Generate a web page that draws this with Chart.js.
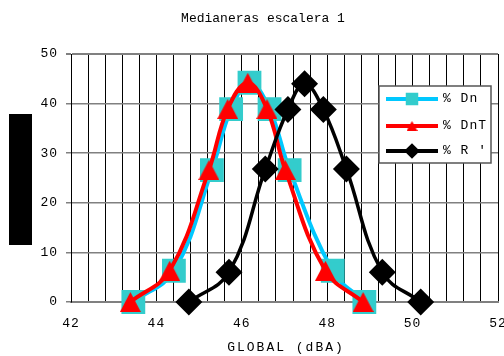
<!DOCTYPE html>
<html>
<head>
<meta charset="utf-8">
<script src="https://cdn.jsdelivr.net/npm/chart.js@4/dist/chart.umd.min.js"></script>
<style>
  body { margin: 0; background: #fff; }
  #wrap { position: relative; width: 504px; height: 356px; }
  #mask { position: absolute; left: 9px; top: 114px; width: 23px; height: 131px; background: #000; }
</style>
</head>
<body>
<div id="wrap">
  <canvas id="chart" width="504" height="356"></canvas>
  <div id="mask"></div>
</div>
<script>
// values
const dnX = [43.46, 44.41, 45.30, 45.75, 46.18, 46.65, 47.12, 48.13, 48.87];
const dnY = [0, 6.3, 26.6, 38.9, 44.2, 38.9, 26.6, 6.3, 0];
const dntX = [43.39, 44.31, 45.23, 45.67, 46.14, 46.59, 47.02, 47.96, 48.84];
const dntY = [0, 6.3, 26.6, 38.9, 44.2, 38.9, 26.6, 6.3, 0];
const rX = [44.76, 45.70, 46.55, 47.08, 47.47, 47.91, 48.45, 49.29, 50.19];
const rY = [0, 6.0, 26.8, 38.8, 44.0, 38.8, 26.8, 6.0, 0];

const seriesNames = ["% Dn", "% DnT", "% R '"];
const chartTitle = "Medianeras escalera 1";
const xTitle = "GLOBAL (dBA)";

const FONT = '"Liberation Mono", "Courier New", monospace';
Chart.defaults.font.family = FONT;
Chart.defaults.font.size = 13;
Chart.defaults.color = "#000";

const pts = (xs, ys) => xs.map((x, i) => ({ x: x, y: ys[i] }));

// triangle marker centred in its box (Excel style)
function triangle(w, h, color) {
  const c = document.createElement("canvas");
  c.width = w;
  c.height = h;
  const g = c.getContext("2d");
  g.fillStyle = color;
  g.beginPath();
  g.moveTo(w / 2, 0);
  g.lineTo(w, h);
  g.lineTo(0, h);
  g.closePath();
  g.fill();
  return c;
}
const bigTri = triangle(21, 20, "#FF0000");
const smallTri = triangle(11, 10, "#FF0000");

// wide letter spacing like the original, title/legend drawn by hand
const extras = {
  id: "extras",
  beforeDraw(chart) {
    chart.ctx.letterSpacing = "1px";
  },
  afterDatasetsDraw(chart) {
    const ctx = chart.ctx;
    ctx.save();
    ctx.fillStyle = "#000";
    ctx.font = "13px " + FONT;
    ctx.textAlign = "center";
    ctx.textBaseline = "middle";
    ctx.letterSpacing = "0px";
    ctx.fillText(chartTitle, 263, 19);
    ctx.letterSpacing = "2px";
    ctx.fillText(xTitle, 286, 348);
    ctx.letterSpacing = "1px";

    // legend box
    ctx.fillStyle = "#fff";
    ctx.fillRect(379, 86, 112, 77);
    ctx.strokeStyle = "#555";
    ctx.lineWidth = 1.5;
    ctx.strokeRect(379, 86, 112, 77);

    const rows = [99, 126, 151];
    const marks = [
      { style: "rect", r: 6 },
      { style: smallTri, r: 6 },
      { style: "rectRot", r: 5 }
    ];
    chart.data.datasets.forEach((ds, i) => {
      const y = rows[i];
      ctx.strokeStyle = ds.borderColor;
      ctx.lineWidth = 4;
      ctx.beginPath();
      ctx.moveTo(386, y);
      ctx.lineTo(438, y);
      ctx.stroke();
      ctx.fillStyle = ds.pointBackgroundColor;
      ctx.strokeStyle = ds.pointBackgroundColor;
      Chart.helpers.drawPoint(ctx, { pointStyle: marks[i].style, radius: marks[i].r, rotation: 0, borderWidth: 1 }, 412, y);
      ctx.fillStyle = "#000";
      ctx.textAlign = "left";
      ctx.fillText(ds.label, 443, y);
    });
    ctx.restore();
  }
};

new Chart(document.getElementById("chart"), {
  type: "line",
  data: {
    datasets: [
      {
        label: seriesNames[0],
        data: pts(dnX, dnY),
        borderColor: "#00C8FF",
        borderWidth: 4,
        pointStyle: "rect",
        pointRadius: 14,
        pointBackgroundColor: "#33CCCC",
        pointBorderColor: "#33CCCC",
        tension: 0.4,
        clip: false,
        order: 3
      },
      {
        label: seriesNames[1],
        data: pts(dntX, dntY),
        borderColor: "#FF0000",
        borderWidth: 4,
        pointStyle: bigTri,
        pointRadius: 12,
        pointBackgroundColor: "#FF0000",
        pointBorderColor: "#FF0000",
        tension: 0.4,
        clip: false,
        order: 2
      },
      {
        label: seriesNames[2],
        data: pts(rX, rY),
        borderColor: "#000000",
        borderWidth: 3.5,
        pointStyle: "rectRot",
        pointRadius: 11,
        pointBackgroundColor: "#000000",
        pointBorderColor: "#000000",
        tension: 0.4,
        clip: false,
        order: 1
      }
    ]
  },
  options: {
    responsive: false,
    devicePixelRatio: 1,
    animation: false,
    layout: { autoPadding: false, padding: { top: 54, right: 6, left: 0, bottom: 0 } },
    plugins: { legend: { display: false }, title: { display: false }, tooltip: { enabled: false } },
    scales: {
      x: {
        type: "linear",
        min: 42,
        max: 52,
        afterFit: s => { s.height = 54; s.paddingLeft = 0; s.paddingRight = 0; },
        ticks: {
          stepSize: 0.4,
          autoSkip: false,
          maxRotation: 0,
          padding: 14,
          callback: v => Math.abs(v / 2 - Math.round(v / 2)) < 1e-6 ? Math.round(v) : ""
        },
        grid: { color: "#000", lineWidth: 1, drawTicks: false },
        border: { color: "#808080", width: 2 }
      },
      y: {
        min: 0,
        max: 50,
        afterFit: s => { s.width = 71; s.paddingTop = 0; s.paddingBottom = 0; },
        ticks: { stepSize: 10, padding: 8 },
        grid: { color: "#808080", lineWidth: c => c.tick && c.tick.value === 50 ? 2 : 1.5, tickLength: 5 },
        border: { color: "#000", width: 1 }
      }
    }
  },
  plugins: [extras]
});
</script>
</body>
</html>
